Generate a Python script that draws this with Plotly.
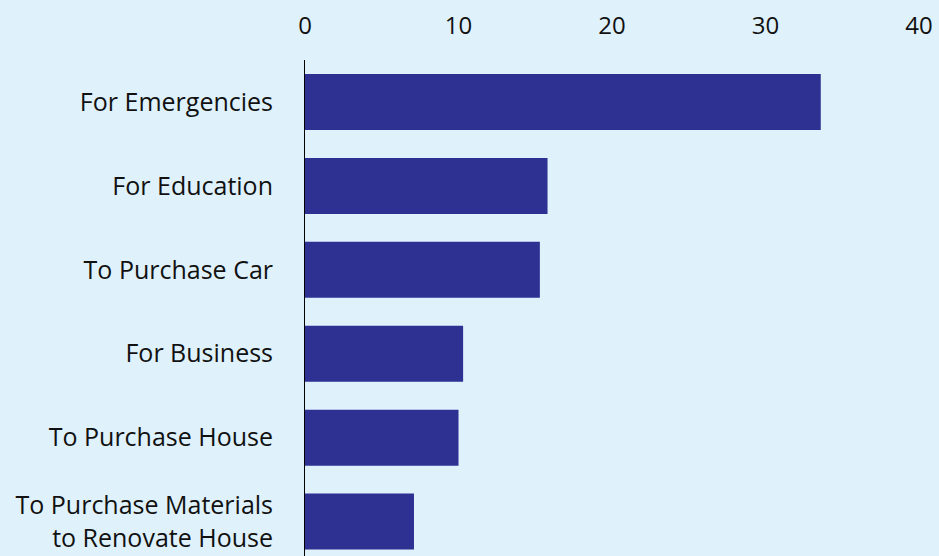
import plotly.graph_objects as go

categories = [
    "For Emergencies",
    "For Education",
    "To Purchase Car",
    "For Business",
    "To Purchase House",
    "To Purchase Materials<br>to Renovate House",
]
values = [33.6, 15.8, 15.3, 10.3, 10.0, 7.1]
tick_vals = [0, 10, 20, 30, 40]

fig = go.Figure(
    go.Bar(
        x=values,
        y=categories,
        orientation="h",
        marker=dict(color="#2e3192", line=dict(width=0)),
        hoverinfo="x+y",
    )
)

fig.update_layout(
    width=939,
    height=556,
    margin=dict(l=305, r=20, t=60, b=0),
    paper_bgcolor="#dff1fb",
    plot_bgcolor="#dff1fb",
    bargap=0.333,
    showlegend=False,
    font=dict(family="Open Sans, sans-serif", size=25, color="#111111"),
)
fig.update_xaxes(
    side="top",
    range=[0, 40],
    tickvals=tick_vals,
    showgrid=False,
    zeroline=False,
    showline=False,
    ticks="",
    ticklabelstandoff=20,
    tickfont=dict(size=24),
)
fig.update_yaxes(
    type="category",
    range=[5.41, -0.5],
    showgrid=False,
    zeroline=False,
    showline=True,
    linecolor="#000000",
    linewidth=1,
    ticks="",
    ticklabelstandoff=26,
    tickfont=dict(size=25),
)

fig.write_html(
    "out.html",
    config={"displayModeBar": False},
    post_script="document.body.style.margin='0';document.body.style.background='#dff1fb';",
)
